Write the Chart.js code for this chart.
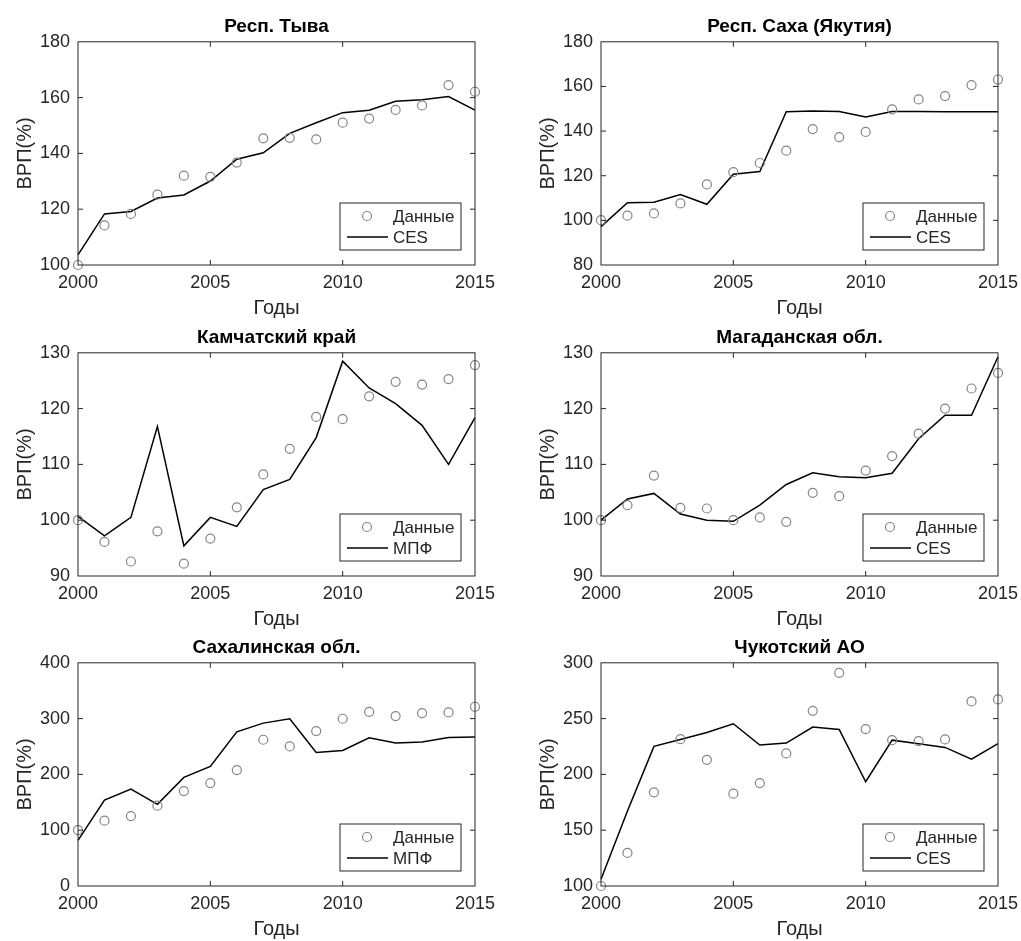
<!DOCTYPE html>
<html>
<head>
<meta charset="utf-8">
<script src="https://cdn.jsdelivr.net/npm/chart.js@4.4.1/dist/chart.umd.min.js"></script>
<style>
  body { margin: 0; background: #fff; width: 1021px; height: 941px; position: relative; overflow: hidden; }
  .panel { position: absolute; width: 505px; height: 323px; }
</style>
</head>
<body>
<div class="panel" style="left:0px;top:0px"><canvas id="c1"></canvas></div>
<div class="panel" style="left:523px;top:0px"><canvas id="c2"></canvas></div>
<div class="panel" style="left:0px;top:311px"><canvas id="c3"></canvas></div>
<div class="panel" style="left:523px;top:311px"><canvas id="c4"></canvas></div>
<div class="panel" style="left:0px;top:621px"><canvas id="c5"></canvas></div>
<div class="panel" style="left:523px;top:621px"><canvas id="c6"></canvas></div>
<script>
// годы и подписи оси X
const YEARS = [2000, 2001, 2002, 2003, 2004, 2005, 2006, 2007, 2008, 2009, 2010, 2011, 2012, 2013, 2014, 2015]
const X_TICKS = [2000, 2005, 2010, 2015]

// Респ. Тыва
const tyvaData = [100, 114.2, 118.3, 125.2, 132.0, 131.6, 136.7, 145.4, 145.6, 145.0, 151.0, 152.5, 155.6, 157.2, 164.5, 162.1]
const tyvaModel = [103.6, 118.3, 119.2, 124.0, 125.1, 130.1, 137.9, 140.2, 147.2, 151.0, 154.6, 155.5, 158.7, 159.2, 160.4, 155.5]
const tyvaTicks = [100, 120, 140, 160, 180]

// Респ. Саха (Якутия)
const sakhaData = [100.1, 102.1, 103.1, 107.6, 116.1, 121.6, 125.7, 131.2, 140.9, 137.3, 139.6, 149.7, 154.2, 155.7, 160.6, 163.1]
const sakhaModel = [97.2, 107.9, 108.1, 111.6, 107.2, 120.7, 121.9, 148.7, 149.0, 148.8, 146.3, 148.8, 148.8, 148.7, 148.7, 148.7]
const sakhaTicks = [80, 100, 120, 140, 160, 180]

// Камчатский край
const kamchatkaData = [100.0, 96.1, 92.6, 98.0, 92.2, 96.7, 102.3, 108.2, 112.8, 118.5, 118.1, 122.2, 124.8, 124.3, 125.3, 127.8]
const kamchatkaModel = [100.7, 97.2, 100.5, 116.8, 95.4, 100.5, 98.9, 105.5, 107.3, 114.8, 128.5, 123.7, 120.9, 117.0, 110.0, 118.4]
const kamchatkaTicks = [90, 100, 110, 120, 130]

// Магаданская обл.
const magadanData = [100.0, 102.7, 108.0, 102.2, 102.1, 100.0, 100.5, 99.7, 104.9, 104.3, 108.9, 111.5, 115.5, 120.0, 123.6, 126.4]
const magadanModel = [100.0, 103.8, 104.8, 101.1, 100.0, 99.8, 102.7, 106.4, 108.5, 107.8, 107.6, 108.4, 114.6, 118.8, 118.8, 129.3]
const magadanTicks = [90, 100, 110, 120, 130]

// Сахалинская обл.
const sakhalinData = [100.3, 117, 125.4, 143.9, 170.1, 184.5, 207.8, 262.1, 250.1, 277.6, 299.7, 312.2, 304.5, 309.9, 311.0, 321.2]
const sakhalinModel = [81.8, 154.0, 173.7, 146.3, 194.6, 214.3, 276.4, 291.9, 299.7, 239.4, 243.0, 265.7, 256.1, 257.9, 266.3, 266.9]
const sakhalinTicks = [0, 100, 200, 300, 400]

// Чукотский АО
const chukotkaData = [100, 129.6, 183.9, 231.6, 213.1, 182.7, 192.2, 218.8, 257.0, 291.0, 240.6, 230.7, 229.9, 231.3, 265.4, 267.2]
const chukotkaModel = [106.0, 167.2, 225.1, 231.3, 237.6, 245.4, 226.3, 228.1, 242.4, 240.3, 193.4, 230.7, 227.5, 224.2, 213.7, 227.5]
const chukotkaTicks = [100, 150, 200, 250, 300]

const FONT = "'Liberation Sans', Arial, Helvetica, sans-serif"
const AXIS_COLOR = '#262626'
const MARKER_COLOR = '#858585'

Chart.defaults.font.family = FONT

// рамка, внутренние риски и легенда в стиле MATLAB
const matlabPlugin = {
  id: 'matlabBox',
  afterDraw(chart) {
    const { ctx, chartArea: a, scales } = chart
    ctx.save()
    ctx.strokeStyle = AXIS_COLOR
    ctx.lineWidth = 1
    ctx.strokeRect(a.left, a.top, a.right - a.left, a.bottom - a.top)

    const tl = 5
    ctx.beginPath()
    scales.y.ticks.forEach(t => {
      const y = scales.y.getPixelForValue(t.value)
      if (Math.abs(y - a.top) < 1 || Math.abs(y - a.bottom) < 1) return
      ctx.moveTo(a.left, y); ctx.lineTo(a.left + tl, y)
      ctx.moveTo(a.right, y); ctx.lineTo(a.right - tl, y)
    })
    scales.x.ticks.forEach(t => {
      const x = scales.x.getPixelForValue(t.value)
      if (Math.abs(x - a.left) < 1 || Math.abs(x - a.right) < 1) return
      ctx.moveTo(x, a.bottom); ctx.lineTo(x, a.bottom - tl)
      ctx.moveTo(x, a.top); ctx.lineTo(x, a.top + tl)
    })
    ctx.stroke()

    // легенда
    const [dots, model] = chart.data.datasets
    const w = 121, h = 47
    const lx = a.right - 14 - w
    const ly = a.bottom - 15 - h
    ctx.fillStyle = '#fff'
    ctx.fillRect(lx, ly, w, h)
    ctx.strokeStyle = AXIS_COLOR
    ctx.strokeRect(lx, ly, w, h)

    ctx.beginPath()
    ctx.arc(lx + 27, ly + 13, 4.5, 0, Math.PI * 2)
    ctx.strokeStyle = MARKER_COLOR
    ctx.lineWidth = 1.2
    ctx.stroke()

    ctx.beginPath()
    ctx.moveTo(lx + 7, ly + 34)
    ctx.lineTo(lx + 48, ly + 34)
    ctx.strokeStyle = '#000'
    ctx.lineWidth = 1.5
    ctx.stroke()

    ctx.fillStyle = AXIS_COLOR
    ctx.font = '17px ' + FONT
    ctx.textAlign = 'left'
    ctx.textBaseline = 'middle'
    ctx.fillText(dots.label, lx + 53, ly + 14)
    ctx.fillText(model.label, lx + 53, ly + 35)
    ctx.restore()
  }
}

function buildPanel(id, title, data, model, modelName, yTicks) {
  return new Chart(document.getElementById(id), {
    type: 'line',
    data: {
      datasets: [
        {
          label: 'Данные',
          data: YEARS.map((x, i) => ({ x, y: data[i] })),
          showLine: false,
          pointStyle: 'circle',
          pointRadius: 4.5,
          pointBorderWidth: 1.2,
          pointBorderColor: MARKER_COLOR,
          pointBackgroundColor: 'rgba(0,0,0,0)',
          clip: false
        },
        {
          label: modelName,
          data: YEARS.map((x, i) => ({ x, y: model[i] })),
          borderColor: '#000',
          borderWidth: 1.5,
          pointRadius: 0,
          tension: 0,
          fill: false,
          clip: false
        }
      ]
    },
    options: {
      responsive: true,
      maintainAspectRatio: false,
      animation: false,
      events: [],
      layout: { padding: { left: 0, top: 0, right: 30, bottom: 0 } },
      plugins: {
        legend: { display: false },
        tooltip: { enabled: false },
        title: {
          display: true,
          text: title,
          fullSize: false,
          color: '#000',
          font: { size: 19, weight: 'bold' },
          padding: { top: 15, bottom: 4 }
        }
      },
      scales: {
        x: {
          type: 'linear',
          min: X_TICKS[0],
          max: X_TICKS[X_TICKS.length - 1],
          afterBuildTicks: s => { s.ticks = X_TICKS.map(v => ({ value: v })) },
          afterFit: s => { s.height = 58 },
          grid: { display: false, drawTicks: false },
          border: { display: false },
          ticks: { color: AXIS_COLOR, font: { size: 18 }, padding: 7, maxRotation: 0, autoSkip: false, callback: v => String(v) },
          title: { display: true, text: 'Годы', color: AXIS_COLOR, font: { size: 20 }, padding: { top: 0, bottom: 3 } }
        },
        y: {
          type: 'linear',
          min: yTicks[0],
          max: yTicks[yTicks.length - 1],
          afterBuildTicks: s => { s.ticks = yTicks.map(v => ({ value: v })) },
          afterFit: s => { s.width = 78 },
          grid: { display: false, drawTicks: false },
          border: { display: false },
          ticks: { color: AXIS_COLOR, font: { size: 18 }, padding: 8, autoSkip: false, callback: v => String(v) },
          title: { display: true, text: 'ВРП(%)', color: AXIS_COLOR, font: { size: 20 }, padding: { top: 13, bottom: 0 } }
        }
      }
    },
    plugins: [matlabPlugin]
  })
}

buildPanel('c1', 'Респ. Тыва', tyvaData, tyvaModel, 'CES', tyvaTicks)
buildPanel('c2', 'Респ. Саха (Якутия)', sakhaData, sakhaModel, 'CES', sakhaTicks)
buildPanel('c3', 'Камчатский край', kamchatkaData, kamchatkaModel, 'МПФ', kamchatkaTicks)
buildPanel('c4', 'Магаданская обл.', magadanData, magadanModel, 'CES', magadanTicks)
buildPanel('c5', 'Сахалинская обл.', sakhalinData, sakhalinModel, 'МПФ', sakhalinTicks)
buildPanel('c6', 'Чукотский АО', chukotkaData, chukotkaModel, 'CES', chukotkaTicks)
</script>
</body>
</html>
